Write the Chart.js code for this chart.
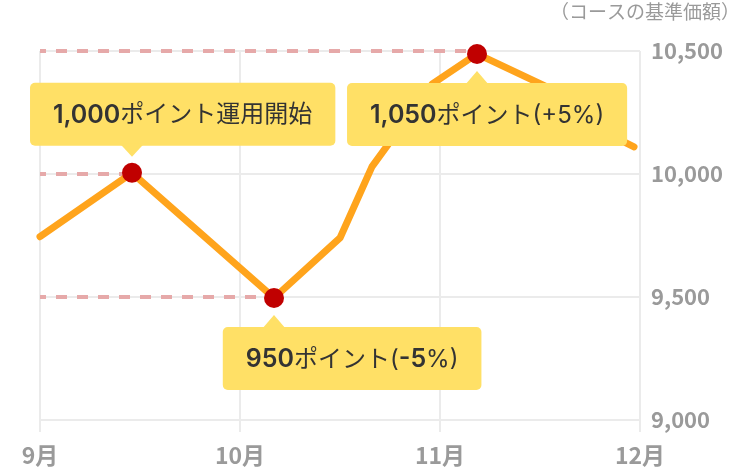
<!DOCTYPE html>
<html>
<head>
<meta charset="utf-8">
<script src="https://cdn.jsdelivr.net/npm/chart.js@4"></script>
<style>
html,body{margin:0;padding:0;background:#fff;}
#wrap{width:750px;height:468px;position:relative;}
</style>
</head>
<body>
<div id="wrap"><canvas id="c"></canvas></div>
<script>
// ---- data ----
const monthLabels = ['9月', '10月', '11月', '12月'];
const pointMonth = [0, 0.46, 1.17, 1.50, 1.66, 1.96, 2.185, 2.675, 2.75, 2.97];
const pointValue = [9745, 10005, 9496, 9740, 10030, 10365, 10488, 10300, 10200, 10110];
const markerIndex = [1, 2, 6];
const refLevels = [10000, 9500, 10500];
const calloutTexts = [
  [['1,000', true], ['ポイント運用開始', false]],
  [['950', true], ['ポイント(', false], ['-5', true], ['%)', false]],
  [['1,050', true], ['ポイント(+5%)', false]]
];
const yMin = 9000, yMax = 10500, yStep = 500;
const axisTitle = '（コースの基準価額）';

// ---- styling ----
const FONT = '"Noto Sans CJK JP", "Noto Sans", sans-serif';
const CALLOUT_FONT = 'Inter, "Noto Sans CJK JP", sans-serif';
const calloutLayout = [
  { side: 'above', anchor: 0.334 },
  { side: 'below', anchor: 0.198 },
  { side: 'below', anchor: 0.464 }
];

const linePoints = pointMonth.map((m, i) => ({ x: m, y: pointValue[i] }));
const markerPoints = markerIndex.map(i => ({ x: pointMonth[i], y: pointValue[i] }));
const dashSets = markerPoints.map((p, k) => ({
  data: [{ x: 0, y: refLevels[k] }, { x: p.x, y: refLevels[k] }],
  borderColor: '#E6A9A9',
  borderWidth: 4,
  borderDash: [11, 10],
  borderDashOffset: 5,
  borderCapStyle: 'butt',
  pointRadius: 0,
  tension: 0,
  order: 3,
  clip: false
}));

const calloutPlugin = {
  id: 'callouts',
  afterDatasetsDraw(chart) {
    const ctx = chart.ctx;
    const meta = chart.getDatasetMeta(0);
    const PADX = 23, BH = 63, PW = 24;
    const fontFor = s => (s[1] ? '600 25px ' : '400 24px ') + CALLOUT_FONT;
    ctx.save();
    meta.data.forEach((pt, i) => {
      const cfg = calloutLayout[i];
      const segs = calloutTexts[i];
      let tw = 0;
      const widths = segs.map(s => {
        ctx.font = fontFor(s);
        const w = ctx.measureText(s[0]).width;
        tw += w;
        return w;
      });
      const bw = tw + 2 * PADX;
      const bx = pt.x - cfg.anchor * bw;
      let by, tipY, baseY, dir;
      if (cfg.side === 'above') {
        tipY = pt.y - 16; baseY = tipY - 11; by = baseY - BH; dir = -1;
      } else {
        tipY = pt.y + 17; baseY = tipY + 12; by = baseY; dir = 1;
      }
      ctx.fillStyle = '#FFE066';
      ctx.beginPath();
      ctx.roundRect(bx, by, bw, BH, 5);
      ctx.fill();
      ctx.beginPath();
      ctx.moveTo(pt.x - PW / 2, baseY + dir * 2);
      ctx.lineTo(pt.x, tipY);
      ctx.lineTo(pt.x + PW / 2, baseY + dir * 2);
      ctx.closePath();
      ctx.fill();
      let x = bx + (bw - tw) / 2;
      const ty = by + BH / 2 + 1;
      ctx.textBaseline = 'middle';
      ctx.textAlign = 'left';
      ctx.fillStyle = '#333333';
      segs.forEach((s, k) => {
        ctx.font = fontFor(s);
        ctx.fillText(s[0], x, ty);
        x += widths[k];
      });
    });
    ctx.font = '19px ' + FONT;
    ctx.fillStyle = '#9a9a9a';
    ctx.textAlign = 'left';
    ctx.textBaseline = 'middle';
    ctx.fillText(axisTitle, 550, 12);
    ctx.restore();
  }
};

new Chart(document.getElementById('c'), {
  type: 'line',
  data: {
    datasets: [
      {
        data: markerPoints,
        showLine: false,
        pointRadius: 10,
        pointHoverRadius: 10,
        pointBackgroundColor: '#C00000',
        pointBorderWidth: 0,
        order: 1,
        clip: false
      },
      {
        data: linePoints,
        borderColor: '#FFA41C',
        borderWidth: 7,
        borderJoinStyle: 'round',
        borderCapStyle: 'round',
        pointRadius: 0,
        tension: 0,
        order: 2,
        clip: false
      },
      ...dashSets
    ]
  },
  options: {
    responsive: true,
    maintainAspectRatio: false,
    animation: false,
    events: [],
    layout: { padding: { left: 40, top: 51, right: 0, bottom: 0 } },
    plugins: { legend: { display: false }, tooltip: { enabled: false } },
    scales: {
      x: {
        type: 'linear',
        min: 0,
        max: monthLabels.length - 1,
        afterFit(s) { s.height = 48; },
        grid: { color: '#EBEBEB', lineWidth: 2, tickLength: 12, drawTicks: true },
        border: { display: false },
        ticks: {
          stepSize: 1,
          padding: 9,
          autoSkip: false,
          maxRotation: 0,
          color: '#9a9a9a',
          font: { family: FONT, size: 23, weight: 'bold' },
          callback: v => monthLabels[v] !== undefined ? monthLabels[v] : ''
        }
      },
      y: {
        position: 'right',
        min: yMin,
        max: yMax,
        afterFit(s) { s.width = 110; },
        grid: { color: '#EBEBEB', lineWidth: 2, drawTicks: false },
        border: { display: false },
        ticks: {
          stepSize: yStep,
          padding: 11,
          color: '#9a9a9a',
          font: { family: FONT, size: 22, weight: 'bold' },
          callback: v => v.toLocaleString('en-US')
        }
      }
    }
  },
  plugins: [calloutPlugin]
});
</script>
</body>
</html>
